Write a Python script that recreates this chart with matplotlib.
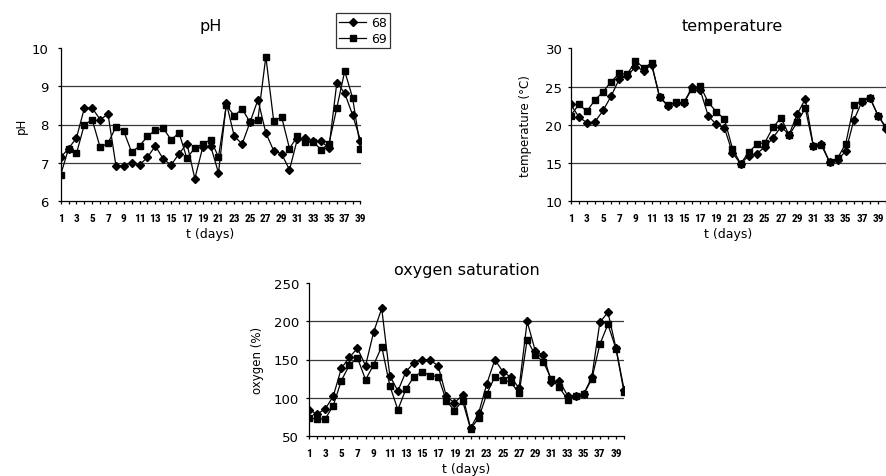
import matplotlib
matplotlib.use("Agg")
import matplotlib.pyplot as plt
from matplotlib.lines import Line2D

# values
ph_days = list(range(1, 40))
ph_68 = [7.14, 7.37, 7.65, 8.43, 8.43, 8.13, 8.27, 6.92, 6.92, 7.00, 6.94, 7.14, 7.44,
         7.09, 6.94, 7.23, 7.50, 6.58, 7.40, 7.44, 6.73, 8.56, 7.69, 7.49, 8.06, 8.65,
         7.78, 7.31, 7.23, 6.81, 7.62, 7.64, 7.56, 7.56, 7.38, 9.10, 8.82, 8.25, 7.58]
ph_69 = [6.68, 7.37, 7.24, 8.00, 8.12, 7.40, 7.51, 7.94, 7.82, 7.27, 7.44, 7.69, 7.85,
         7.90, 7.60, 7.78, 7.11, 7.39, 7.49, 7.60, 7.15, 8.50, 8.23, 8.41, 8.06, 8.13,
         9.78, 8.09, 8.20, 7.37, 7.69, 7.53, 7.55, 7.34, 7.49, 8.44, 9.40, 8.70, 7.37]

days = list(range(1, 41))
temp_68 = [22.66, 21.05, 20.26, 20.39, 21.87, 23.75, 25.98, 26.37, 27.6, 27.08, 27.82,
           23.6, 22.5, 22.9, 22.9, 24.9, 24.56, 21.18, 20.04, 19.6, 16.32, 14.91, 15.92,
           16.23, 17.1, 18.29, 19.74, 18.73, 21.4, 23.38, 17.2, 17.54, 15.13, 15.44,
           16.54, 20.61, 23.03, 23.46, 21.2, 19.5]
temp_69 = [21.18, 22.66, 21.79, 23.23, 24.32, 25.63, 26.72, 26.59, 28.38, 27.47, 28.03,
           23.58, 22.57, 22.92, 22.92, 24.7, 25.13, 22.94, 21.7, 20.75, 16.89, 14.91,
           16.4, 17.46, 17.68, 19.65, 20.92, 18.64, 20.35, 22.15, 17.19, 17.32, 15.13,
           15.66, 17.54, 22.59, 23.11, 23.55, 21.18, 19.65]

oxy_68 = [84, 78.5, 85, 101.7, 138.4, 152.9, 164.7, 141.9, 186, 217, 128.8, 108.7, 134,
          146, 149.8, 149.8, 141, 101.7, 93, 103.4, 60, 79.8, 117.8, 149.7, 134, 126.5,
          112.5, 200, 161.5, 155.8, 120.8, 122, 102.6, 102.6, 104.6, 126.5, 198.8,
          211.9, 164.7, 110.3]
oxy_69 = [73.2, 71.9, 71.9, 89.4, 122.2, 142.8, 152, 123.5, 143, 167, 115.7, 84, 111.3,
          127.5, 134, 128.8, 127.5, 96, 82.8, 96, 58.8, 73.2, 104.6, 127.4, 123.4, 120,
          105.6, 175.8, 155.9, 147, 124.3, 113.4, 97.2, 101.6, 104.6, 124.3, 169.9,
          196.2, 163.7, 106.9]

W, H = 886, 477
fig = plt.figure(figsize=(W / 100, H / 100), dpi=100)

# narrow bold digits on the day axis, like the original
narrow = ['Roboto Condensed', 'Liberation Sans Narrow', 'Roboto', 'DejaVu Sans']


def px_axes(left, top, right, bottom):
    return fig.add_axes([left / W, 1 - bottom / H, (right - left) / W, (bottom - top) / H])


def style(ax, x, a, b, ylim, yticks, title, ylabel, title_x, title_pad, ylab_x, ypad):
    ax.plot(x, a, color='black', lw=0.9, marker='D', ms=3.6, zorder=3)
    ax.plot(x, b, color='black', lw=0.9, marker='s', ms=5, zorder=4)
    ax.set_xlim(x[0], x[-1])
    ax.set_ylim(*ylim)
    ax.set_yticks(yticks)
    for v in yticks[1:-1]:
        ax.axhline(v, color='#3a3a3a', lw=0.9, zorder=1)
    ax.set_xticks(x)
    ax.set_xticklabels([str(d) if d % 2 == 1 else '' for d in x])
    for lab in ax.get_xticklabels():
        lab.set_family(narrow)
        lab.set_fontweight('bold')
        lab.set_fontsize(8.2)
    ax.tick_params(axis='x', length=2.5, width=0.9, pad=6)
    ax.tick_params(axis='y', length=2.5, width=0.9, pad=ypad, labelsize=9.5)
    for s in ['top', 'right']:
        ax.spines[s].set_visible(False)
    for s in ['left', 'bottom']:
        ax.spines[s].set_linewidth(0.9)
    ax.set_title(title, fontsize=11.5, x=title_x, pad=title_pad)
    ax.set_ylabel(ylabel, fontsize=8.5)
    ax.yaxis.set_label_coords(ylab_x, 0.5)
    ax.set_xlabel('t (days)', fontsize=9)
    ax.xaxis.set_label_coords(0.5, -0.17)


ax1 = px_axes(60.7, 49.3, 360.5, 201.7)
style(ax1, ph_days, ph_68, ph_69, (6, 10), [6, 7, 8, 9, 10], 'pH', 'pH',
      0.5, 13, -0.109, 6)

ax2 = px_axes(570.7, 49.3, 886.2, 202.3)
style(ax2, days, temp_68, temp_69, (10, 30), [10, 15, 20, 25, 30], 'temperature',
      'temperature (°C)', 0.511, 13, -0.124, 3.5)

ax3 = px_axes(309, 284.3, 624.1, 436.7)
style(ax3, days, oxy_68, oxy_69, (50, 250), [50, 100, 150, 200, 250],
      'oxygen saturation', 'oxygen (%)', 0.5, 7, -0.143, 4.5)

handles = [Line2D([], [], color='black', lw=0.9, marker='D', ms=3.6),
           Line2D([], [], color='black', lw=0.9, marker='s', ms=5)]
leg = fig.legend(handles, ['68', '69'], loc='upper left',
                 bbox_to_anchor=(335.7 / W, 1 - 14 / H), fontsize=9,
                 frameon=True, fancybox=False, handlelength=2.2, handletextpad=0.4,
                 borderpad=0.25, labelspacing=0.25, borderaxespad=0)
leg.get_frame().set_edgecolor('black')
leg.get_frame().set_linewidth(0.9)

fig.savefig('out.png', dpi=100)
